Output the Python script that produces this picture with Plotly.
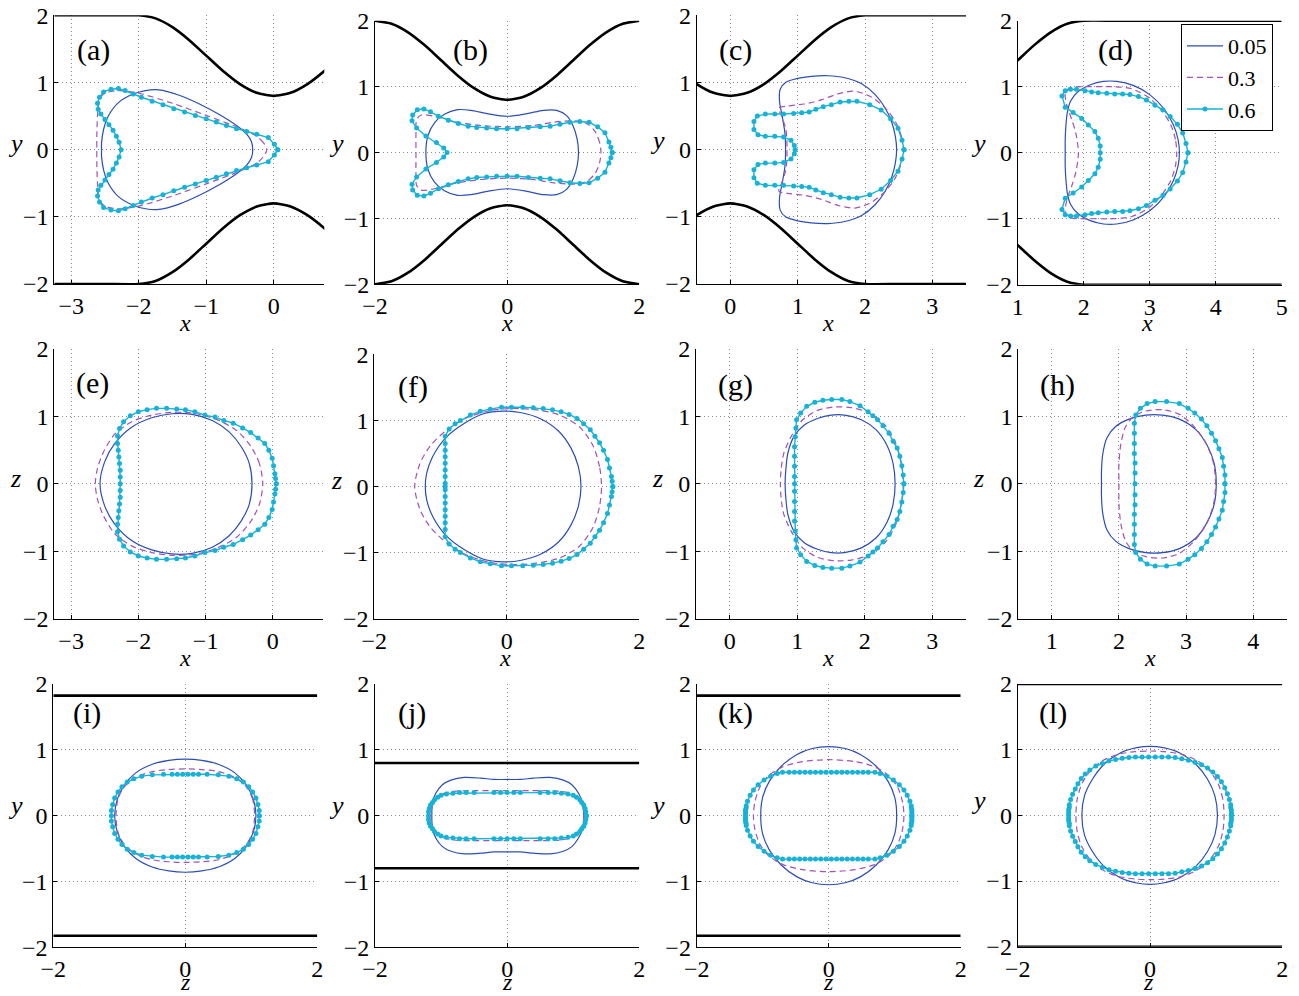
import plotly.graph_objects as go

# ---------------- data ----------------
# channel wall (upper half); lower wall is its mirror
WALL_X = [-3.25, -2.5, -2.0, -1.75, -1.5, -1.25, -1.0, -0.75, -0.5, -0.25, 0.0,
          0.25, 0.5, 0.75, 1.0, 1.25, 1.5, 1.75, 2.0, 2.5, 3.5, 5.0]
WALL_Y = [2.0, 2.0, 2.0, 1.954, 1.824, 1.630, 1.4, 1.170, 0.976, 0.846, 0.8,
          0.846, 0.976, 1.170, 1.4, 1.630, 1.824, 1.954, 2.0, 2.0, 2.0, 2.0]
# flat walls in the cross sections (i)-(l)
SECTION_WALLS = [1.824, 0.8, 1.824, 2.0]

# droplet outlines, upper halves (y >= 0); lower halves are mirror images
A_BLUE = [(-0.31, 0), (-0.33, 0.12), (-0.40, 0.23), (-0.55, 0.36), (-0.8, 0.52), (-1.1, 0.68),
          (-1.4, 0.81), (-1.7, 0.89), (-1.9, 0.88), (-2.1, 0.82), (-2.3, 0.7), (-2.45, 0.5),
          (-2.52, 0.3), (-2.55, 0.1), (-2.55, 0)]
A_PURPLE = [(-0.1, 0), (-0.15, 0.1), (-0.25, 0.2), (-0.5, 0.32), (-1.0, 0.51), (-1.5, 0.69),
            (-2.0, 0.84), (-2.3, 0.88), (-2.5, 0.84), (-2.58, 0.75), (-2.61, 0.5), (-2.62, 0.2),
            (-2.62, 0)]
A_CYAN = [(0.06, 0), (0.01, 0.08), (-0.08, 0.18), (-0.25, 0.23), (-0.4, 0.27), (-0.55, 0.31),
          (-0.7, 0.36), (-0.85, 0.41), (-1.0, 0.46), (-1.16, 0.51), (-1.32, 0.56), (-1.48, 0.61),
          (-1.64, 0.67), (-1.8, 0.72), (-1.96, 0.78), (-2.08, 0.83), (-2.2, 0.88), (-2.3, 0.91),
          (-2.41, 0.9), (-2.52, 0.86), (-2.58, 0.78), (-2.61, 0.69), (-2.6, 0.6), (-2.56, 0.53),
          (-2.5, 0.45), (-2.44, 0.37), (-2.38, 0.29), (-2.33, 0.2), (-2.29, 0.11), (-2.26, 0)]

B_BLUE = [(1.08, 0), (1.06, 0.2), (1.0, 0.4), (0.9, 0.56), (0.75, 0.64), (0.55, 0.64), (0.3, 0.59),
          (0, 0.55), (-0.3, 0.59), (-0.55, 0.64), (-0.75, 0.65), (-0.95, 0.58), (-1.1, 0.45),
          (-1.2, 0.25), (-1.23, 0)]
B_PURPLE = [(1.42, 0), (1.4, 0.15), (1.33, 0.32), (1.2, 0.44), (1.0, 0.48), (0.7, 0.46), (0.4, 0.41),
            (0, 0.39), (-0.4, 0.41), (-0.8, 0.47), (-1.1, 0.55), (-1.3, 0.57), (-1.37, 0.5),
            (-1.38, 0.3), (-1.38, 0)]
B_CYAN = [(1.59, 0), (1.57, 0.08), (1.54, 0.16), (1.48, 0.3), (1.37, 0.39), (1.24, 0.46), (1.1, 0.47),
          (0.95, 0.46), (0.8, 0.43), (0.65, 0.4), (0.5, 0.39), (0.32, 0.38), (0.15, 0.36), (0, 0.36),
          (-0.16, 0.36), (-0.31, 0.37), (-0.46, 0.38), (-0.59, 0.4), (-0.74, 0.44), (-0.89, 0.49),
          (-1.04, 0.55), (-1.16, 0.62), (-1.26, 0.66), (-1.36, 0.65), (-1.43, 0.57), (-1.44, 0.48),
          (-1.37, 0.37), (-1.23, 0.25), (-1.07, 0.15), (-0.96, 0.07), (-0.91, 0)]

C_BLUE = [(2.47, 0), (2.45, 0.2), (2.4, 0.4), (2.3, 0.62), (2.15, 0.82), (1.95, 0.98), (1.7, 1.07),
          (1.45, 1.1), (1.2, 1.09), (1.0, 1.06), (0.82, 1.0), (0.74, 0.9), (0.73, 0.72),
          (0.77, 0.5), (0.81, 0.25), (0.82, 0)]
C_PURPLE = [(2.57, 0), (2.54, 0.2), (2.45, 0.42), (2.3, 0.62), (2.1, 0.78), (1.85, 0.87), (1.6, 0.83),
            (1.35, 0.74), (1.1, 0.68), (0.85, 0.65), (0.72, 0.62), (0.76, 0.5), (0.82, 0.32),
            (0.84, 0.15), (0.84, 0)]
C_CYAN = [(2.58, 0), (2.55, 0.14), (2.49, 0.32), (2.38, 0.46), (2.24, 0.59), (2.07, 0.67), (1.88, 0.72),
          (1.76, 0.72), (1.63, 0.71), (1.5, 0.67), (1.38, 0.64), (1.27, 0.6), (1.17, 0.56), (1.06, 0.55),
          (0.94, 0.54), (0.79, 0.53), (0.66, 0.53), (0.52, 0.53), (0.4, 0.5), (0.35, 0.42), (0.35, 0.3),
          (0.41, 0.22), (0.52, 0.2), (0.66, 0.2), (0.79, 0.19), (0.9, 0.14), (0.95, 0.06), (0.96, 0)]

D_BLUE = [(3.45, 0), (3.43, 0.2), (3.36, 0.42), (3.22, 0.66), (3.0, 0.88), (2.75, 1.02), (2.5, 1.08),
          (2.3, 1.08), (2.1, 1.03), (1.92, 0.93), (1.8, 0.78), (1.75, 0.6), (1.73, 0.4), (1.72, 0.2),
          (1.72, 0)]
D_PURPLE = [(3.41, 0), (3.39, 0.2), (3.32, 0.42), (3.18, 0.64), (2.98, 0.84), (2.72, 0.97), (2.45, 1.0),
            (2.2, 1.0), (1.95, 1.0), (1.78, 0.98), (1.72, 0.9), (1.75, 0.7), (1.82, 0.5), (1.88, 0.3),
            (1.91, 0.12), (1.92, 0)]
D_CYAN = [(3.58, 0), (3.55, 0.14), (3.5, 0.3), (3.42, 0.43), (3.31, 0.55), (3.2, 0.65), (3.08, 0.72),
          (2.95, 0.8), (2.83, 0.85), (2.7, 0.88), (2.59, 0.89), (2.47, 0.89), (2.35, 0.9), (2.22, 0.91),
          (2.12, 0.92), (2.02, 0.94), (1.89, 0.96), (1.8, 0.96), (1.72, 0.94), (1.67, 0.86), (1.72, 0.69),
          (1.84, 0.61), (1.97, 0.52), (2.07, 0.42), (2.17, 0.32), (2.22, 0.22), (2.25, 0.1), (2.25, 0)]

E_BLUE = [(-0.31, 0), (-0.35, 0.3), (-0.47, 0.55), (-0.65, 0.77), (-0.9, 0.94), (-1.2, 1.03),
          (-1.5, 1.04), (-1.8, 0.98), (-2.1, 0.84), (-2.35, 0.6), (-2.5, 0.33), (-2.57, 0)]
E_PURPLE = [(-0.15, 0), (-0.2, 0.3), (-0.33, 0.56), (-0.55, 0.8), (-0.85, 0.96), (-1.2, 1.05),
            (-1.5, 1.06), (-1.8, 1.02), (-2.1, 0.92), (-2.35, 0.74), (-2.52, 0.47), (-2.61, 0.22),
            (-2.64, 0)]
E_CYAN = [(0.05, 0), (0.04, 0.08), (0.03, 0.15), (0.01, 0.27), (-0.01, 0.38), (-0.06, 0.5), (-0.12, 0.6),
          (-0.22, 0.68), (-0.33, 0.76), (-0.45, 0.83), (-0.59, 0.9), (-0.73, 0.94), (-0.86, 0.99),
          (-1.01, 1.02), (-1.16, 1.07), (-1.3, 1.1), (-1.43, 1.11), (-1.58, 1.12), (-1.73, 1.12),
          (-1.87, 1.1), (-2.0, 1.07), (-2.12, 1.01), (-2.22, 0.92), (-2.28, 0.82), (-2.31, 0.71),
          (-2.31, 0.6), (-2.3, 0.5), (-2.29, 0.4), (-2.28, 0.3), (-2.27, 0.2), (-2.27, 0.1), (-2.27, 0)]

F_BLUE = [(1.12, 0), (1.08, 0.3), (0.97, 0.58), (0.78, 0.84), (0.5, 1.03), (0.2, 1.12), (-0.05, 1.14),
          (-0.35, 1.1), (-0.65, 0.95), (-0.92, 0.74), (-1.12, 0.45), (-1.21, 0.2), (-1.23, 0)]
F_PURPLE = [(1.43, 0), (1.4, 0.3), (1.3, 0.62), (1.1, 0.9), (0.8, 1.08), (0.45, 1.16), (0.1, 1.18),
            (-0.25, 1.15), (-0.6, 1.04), (-0.9, 0.86), (-1.15, 0.62), (-1.31, 0.35), (-1.39, 0)]
F_CYAN = [(1.6, 0), (1.59, 0.08), (1.58, 0.15), (1.55, 0.28), (1.52, 0.41), (1.46, 0.55), (1.4, 0.66),
          (1.33, 0.76), (1.26, 0.86), (1.16, 0.95), (1.06, 1.03), (0.94, 1.09), (0.82, 1.13), (0.69, 1.16),
          (0.55, 1.18), (0.4, 1.19), (0.24, 1.2), (0.07, 1.2), (-0.08, 1.2), (-0.25, 1.17), (-0.4, 1.14),
          (-0.55, 1.08), (-0.7, 1.0), (-0.78, 0.95), (-0.87, 0.87), (-0.93, 0.76), (-0.93, 0.65),
          (-0.93, 0.55), (-0.93, 0.45), (-0.93, 0.35), (-0.93, 0.25), (-0.93, 0.15), (-0.93, 0.05),
          (-0.93, 0)]

G_BLUE = [(2.45, 0), (2.42, 0.3), (2.33, 0.57), (2.17, 0.8), (1.95, 0.95), (1.7, 1.02), (1.5, 1.02),
          (1.3, 0.97), (1.1, 0.87), (0.95, 0.7), (0.86, 0.45), (0.83, 0.2), (0.82, 0)]
G_PURPLE = [(2.57, 0), (2.54, 0.3), (2.46, 0.6), (2.3, 0.87), (2.05, 1.06), (1.8, 1.13), (1.55, 1.14),
            (1.3, 1.09), (1.08, 0.95), (0.92, 0.72), (0.8, 0.45), (0.76, 0.2), (0.75, 0)]
G_CYAN = [(2.58, 0), (2.57, 0.13), (2.55, 0.27), (2.52, 0.41), (2.48, 0.53), (2.42, 0.63), (2.36, 0.75),
          (2.27, 0.86), (2.19, 0.95), (2.12, 1.01), (2.05, 1.07), (1.93, 1.16), (1.78, 1.22), (1.66, 1.25),
          (1.51, 1.25), (1.38, 1.24), (1.26, 1.21), (1.14, 1.15), (1.05, 1.05), (0.99, 0.95), (0.98, 0.83),
          (0.97, 0.7), (0.96, 0.55), (0.96, 0.41), (0.96, 0.26), (0.96, 0.11), (0.96, 0)]

H_BLUE = [(3.45, 0), (3.42, 0.3), (3.32, 0.56), (3.15, 0.8), (2.9, 0.96), (2.65, 1.02), (2.4, 1.02),
          (2.15, 0.96), (1.95, 0.85), (1.82, 0.68), (1.76, 0.45), (1.74, 0.2), (1.74, 0)]
H_PURPLE = [(3.44, 0), (3.41, 0.3), (3.3, 0.6), (3.12, 0.85), (2.9, 1.03), (2.65, 1.1), (2.4, 1.08),
            (2.22, 1.0), (2.1, 0.85), (2.03, 0.6), (2.0, 0.3), (2.0, 0)]
H_CYAN = [(3.58, 0), (3.58, 0.13), (3.56, 0.26), (3.54, 0.39), (3.49, 0.52), (3.44, 0.64), (3.38, 0.75),
          (3.31, 0.86), (3.23, 0.96), (3.13, 1.05), (3.03, 1.12), (2.9, 1.19), (2.71, 1.22), (2.54, 1.22),
          (2.42, 1.19), (2.32, 1.12), (2.25, 1.02), (2.23, 0.9), (2.23, 0.75), (2.23, 0.6), (2.23, 0.45),
          (2.24, 0.31), (2.24, 0.16), (2.24, 0)]

I_BLUE = [(1.07, 0), (1.03, 0.25), (0.92, 0.47), (0.75, 0.65), (0.5, 0.78), (0.25, 0.84), (0, 0.86),
          (-0.25, 0.84), (-0.5, 0.78), (-0.75, 0.65), (-0.92, 0.47), (-1.03, 0.25), (-1.07, 0)]
I_PURPLE = [(1.05, 0), (1.02, 0.25), (0.93, 0.43), (0.75, 0.58), (0.5, 0.67), (0.25, 0.7), (0, 0.71),
            (-0.25, 0.7), (-0.5, 0.67), (-0.75, 0.58), (-0.93, 0.43), (-1.02, 0.25), (-1.05, 0)]
I_CYAN = [(1.12, 0), (1.12, 0.08), (1.1, 0.17), (1.07, 0.27), (1.02, 0.36), (0.96, 0.44), (0.88, 0.51),
          (0.78, 0.56), (0.66, 0.6), (0.5, 0.62), (0.33, 0.63), (0.2, 0.63), (0.12, 0.63), (0.04, 0.63),
          (-0.04, 0.63), (-0.12, 0.63), (-0.2, 0.63), (-0.33, 0.63), (-0.5, 0.62), (-0.66, 0.6),
          (-0.78, 0.56), (-0.88, 0.51), (-0.96, 0.44), (-1.02, 0.36), (-1.07, 0.27), (-1.1, 0.17),
          (-1.12, 0.08), (-1.12, 0)]

J_BLUE = [(1.16, 0), (1.14, 0.2), (1.08, 0.34), (0.98, 0.47), (0.85, 0.54), (0.65, 0.58), (0.4, 0.57),
          (0.2, 0.55), (0, 0.55), (-0.2, 0.55), (-0.4, 0.57), (-0.65, 0.58), (-0.85, 0.54), (-0.98, 0.47),
          (-1.08, 0.34), (-1.13, 0.2), (-1.14, 0)]
J_PURPLE = [(1.16, 0), (1.14, 0.15), (1.08, 0.26), (0.98, 0.33), (0.8, 0.37), (0.5, 0.38), (0, 0.38),
            (-0.5, 0.38), (-0.8, 0.37), (-0.98, 0.33), (-1.08, 0.26), (-1.13, 0.15), (-1.15, 0)]
J_CYAN = [(1.2, 0), (1.19, 0.06), (1.18, 0.11), (1.16, 0.16), (1.13, 0.2), (1.1, 0.24),
          (1.05, 0.28), (1.0, 0.31), (0.92, 0.33), (0.82, 0.34), (0.72, 0.35), (0.62, 0.35), (0.5, 0.35),
          (0.2, 0.35), (0.1, 0.35), (0, 0.35), (-0.1, 0.35), (-0.2, 0.35), (-0.5, 0.35), (-0.62, 0.35),
          (-0.72, 0.35), (-0.82, 0.34), (-0.92, 0.33), (-1.0, 0.31), (-1.05, 0.28), (-1.1, 0.24),
          (-1.13, 0.2), (-1.16, 0.16), (-1.18, 0.11), (-1.19, 0.06), (-1.19, 0)]

K_BLUE = [(1.03, 0), (1.0, 0.28), (0.9, 0.52), (0.72, 0.75), (0.48, 0.93), (0.25, 1.02), (0, 1.05),
          (-0.25, 1.02), (-0.48, 0.93), (-0.72, 0.75), (-0.9, 0.52), (-1.0, 0.28), (-1.03, 0)]
K_PURPLE = [(1.14, 0), (1.12, 0.2), (1.05, 0.42), (0.92, 0.6), (0.7, 0.74), (0.4, 0.82), (0, 0.85),
            (-0.4, 0.82), (-0.7, 0.74), (-0.92, 0.6), (-1.05, 0.42), (-1.12, 0.2), (-1.14, 0)]
K_CYAN = [(1.26, 0), (1.26, 0.03), (1.26, 0.06), (1.26, 0.09), (1.25, 0.12), (1.25, 0.15),
          (1.23, 0.22), (1.19, 0.31), (1.14, 0.39), (1.07, 0.47), (0.98, 0.54), (0.88, 0.6),
          (0.78, 0.64), (0.7, 0.66), (0.6, 0.66), (0.52, 0.66), (0.44, 0.66), (0.36, 0.66),
          (0.28, 0.66), (0.2, 0.66), (0.12, 0.66), (0.04, 0.66), (-0.04, 0.66), (-0.12, 0.66),
          (-0.2, 0.66), (-0.28, 0.66), (-0.36, 0.66), (-0.44, 0.66), (-0.52, 0.66), (-0.6, 0.66),
          (-0.7, 0.66), (-0.78, 0.64), (-0.88, 0.6), (-0.98, 0.54), (-1.07, 0.47), (-1.14, 0.39),
          (-1.19, 0.31), (-1.23, 0.22), (-1.25, 0.15), (-1.25, 0.12), (-1.26, 0.09), (-1.26, 0.06),
          (-1.26, 0.03), (-1.26, 0)]

L_BLUE = [(1.02, 0), (0.98, 0.3), (0.87, 0.55), (0.7, 0.77), (0.45, 0.95), (0.2, 1.03), (0, 1.05),
          (-0.2, 1.03), (-0.45, 0.95), (-0.7, 0.77), (-0.87, 0.55), (-0.99, 0.3), (-1.03, 0)]
L_PURPLE = [(1.12, 0), (1.1, 0.25), (1.03, 0.48), (0.9, 0.68), (0.72, 0.83), (0.48, 0.93), (0.22, 0.97),
            (0, 0.98), (-0.22, 0.97), (-0.48, 0.93), (-0.72, 0.83), (-0.9, 0.68), (-1.03, 0.48),
            (-1.1, 0.25), (-1.12, 0)]
L_CYAN = [(1.23, 0), (1.23, 0.04), (1.23, 0.08), (1.22, 0.12), (1.22, 0.16), (1.2, 0.24),
          (1.17, 0.33), (1.13, 0.42), (1.08, 0.51), (1.02, 0.59), (0.95, 0.66), (0.87, 0.72),
          (0.78, 0.77), (0.68, 0.81), (0.58, 0.84), (0.48, 0.86), (0.38, 0.88), (0.28, 0.89),
          (0.18, 0.89), (0.08, 0.89), (-0.02, 0.89), (-0.12, 0.89), (-0.22, 0.89), (-0.32, 0.88),
          (-0.42, 0.87), (-0.52, 0.85), (-0.62, 0.83), (-0.72, 0.79), (-0.82, 0.75), (-0.91, 0.69),
          (-0.98, 0.63), (-1.04, 0.56), (-1.09, 0.48), (-1.13, 0.4), (-1.17, 0.32), (-1.2, 0.24),
          (-1.22, 0.16), (-1.22, 0.12), (-1.23, 0.08), (-1.23, 0.04), (-1.23, 0)]

SERIES_NAMES = ["0.05", "0.3", "0.6"]
PANEL_LABELS = ["(a)", "(b)", "(c)", "(d)", "(e)", "(f)", "(g)", "(h)", "(i)", "(j)", "(k)", "(l)"]
X_TICKS = [[-3, -2, -1, 0], [-2, 0, 2], [0, 1, 2, 3], [1, 2, 3, 4, 5],
           [-3, -2, -1, 0], [-2, 0, 2], [0, 1, 2, 3], [1, 2, 3, 4],
           [-2, 0, 2], [-2, 0, 2], [-2, 0, 2], [-2, 0, 2]]
Y_TICKS = [-2, -1, 0, 1, 2]
X_NAMES = ["x"] * 8 + ["z"] * 4
Y_NAMES = ["y"] * 4 + ["z"] * 4 + ["y"] * 4

# ---------------- layout / style ----------------
W, H = 1299, 996
BLUE = "#2b4eb4"
PURPLE = "#a452b4"
CYAN = "#16b2d8"
FONT = "Liberation Serif, Times New Roman, serif"

CURVES = [(A_BLUE, A_PURPLE, A_CYAN), (B_BLUE, B_PURPLE, B_CYAN), (C_BLUE, C_PURPLE, C_CYAN),
          (D_BLUE, D_PURPLE, D_CYAN), (E_BLUE, E_PURPLE, E_CYAN), (F_BLUE, F_PURPLE, F_CYAN),
          (G_BLUE, G_PURPLE, G_CYAN), (H_BLUE, H_PURPLE, H_CYAN), (I_BLUE, I_PURPLE, I_CYAN),
          (J_BLUE, J_PURPLE, J_CYAN), (K_BLUE, K_PURPLE, K_CYAN), (L_BLUE, L_PURPLE, L_CYAN)]

X_RANGES = [[-3.25, 0.75], [-2, 2], [-0.5, 3.5], [1, 5],
            [-3.25, 0.75], [-2, 2], [-0.5, 3.5], [0.5, 4.5],
            [-2, 2], [-2, 2], [-2, 2], [-2, 2]]
# plot-area pixel boxes: left, right, top, bottom
BOXES = [(54.3, 324.3, 15.3, 284.0), (375.0, 639.3, 20.7, 284.3), (696.7, 966.0, 15.3, 284.0),
         (1017.7, 1281.7, 20.7, 284.7),
         (54.3, 323.3, 349.0, 618.7), (374.3, 639.3, 354.3, 618.7), (696.0, 966.0, 349.0, 618.7),
         (1018.3, 1286.7, 349.0, 618.7),
         (53.3, 317.3, 684.0, 947.3), (375.0, 639.3, 684.0, 947.3), (696.7, 960.7, 684.0, 947.3),
         (1017.7, 1282.3, 684.0, 946.7)]
LABEL_POS = [(93, 50), (470, 50), (735, 50), (1115, 50),
             (92, 383), (413, 387), (735, 385), (1057, 385),
             (87, 713), (412, 713), (735, 713), (1053, 713)]
XNAME_POS = [(185, 323), (507, 323), (828, 323), (1147, 323),
             (185, 658), (505, 658), (828, 658), (1150, 658),
             (185, 982), (507, 982), (828, 982), (1148, 982)]
YNAME_POS = [(15, 143), (336, 143), (657, 141), (978, 143),
             (15, 478), (336, 480), (657, 478), (978, 478),
             (15, 805), (336, 805), (657, 805), (978, 800)]


def closed(upper):
    xs = [p[0] for p in upper] + [p[0] for p in reversed(upper[:-1])]
    ys = [p[1] for p in upper] + [-p[1] for p in reversed(upper[:-1])]
    return xs, ys


fig = go.Figure()
layout = dict(template="none", width=W, height=H, margin=dict(l=0, r=0, t=0, b=0, pad=0),
              paper_bgcolor="white", plot_bgcolor="white",
              font=dict(family=FONT, size=22, color="black"),
              annotations=[])

for k in range(12):
    ax = "" if k == 0 else str(k + 1)
    xa, ya = "x" + ax, "y" + ax
    left, right, top, bottom = BOXES[k]
    axis_common = dict(showline=True, linecolor="black", linewidth=1, mirror=False,
                       ticks="inside", ticklen=4, tickcolor="black", automargin=False,
                       showgrid=True, gridcolor="#8c8c8c", gridwidth=1, griddash="1px,3px",
                       zeroline=False, tickfont=dict(family=FONT, size=24, color="black"),
                       fixedrange=True)
    layout["xaxis" + ax] = dict(axis_common, domain=[left / W, right / W], range=X_RANGES[k],
                                tickvals=X_TICKS[k], anchor=ya)
    layout["yaxis" + ax] = dict(axis_common, domain=[1 - bottom / H, 1 - top / H], range=[-2, 2],
                                tickvals=Y_TICKS, anchor=xa)

    # walls
    if k < 4:
        lo, hi = X_RANGES[k]
        wx = [x for x in WALL_X if lo - 0.3 <= x <= hi + 0.3]
        wy = [y for x, y in zip(WALL_X, WALL_Y) if lo - 0.3 <= x <= hi + 0.3]
        for sgn in (1, -1):
            fig.add_trace(go.Scatter(x=wx, y=[sgn * v for v in wy], mode="lines",
                                     line=dict(color="black", width=2.6, shape="spline", smoothing=0.6),
                                     showlegend=False, hoverinfo="skip", xaxis=xa, yaxis=ya))
    elif k >= 8:
        wv = SECTION_WALLS[k - 8]
        for sgn in (1, -1):
            fig.add_trace(go.Scatter(x=X_RANGES[k], y=[sgn * wv, sgn * wv], mode="lines",
                                     line=dict(color="black", width=2.6),
                                     showlegend=False, hoverinfo="skip", xaxis=xa, yaxis=ya))

    blue, purple, cyan = CURVES[k]
    bx, by = closed(blue)
    px_, py_ = closed(purple)
    cx, cy = closed(cyan)
    show = (k == 0)
    fig.add_trace(go.Scatter(x=bx, y=by, mode="lines", name=SERIES_NAMES[0], showlegend=show,
                             line=dict(color=BLUE, width=1.2, shape="spline", smoothing=0.8),
                             xaxis=xa, yaxis=ya))
    fig.add_trace(go.Scatter(x=px_, y=py_, mode="lines", name=SERIES_NAMES[1], showlegend=show,
                             line=dict(color=PURPLE, width=1.2, dash="6px,4px", shape="spline",
                                       smoothing=0.8),
                             xaxis=xa, yaxis=ya))
    fig.add_trace(go.Scatter(x=cx, y=cy, mode="lines+markers", name=SERIES_NAMES[2], showlegend=show,
                             line=dict(color=CYAN, width=1.4),
                             marker=dict(color=CYAN, size=5),
                             xaxis=xa, yaxis=ya))

    lx, ly = LABEL_POS[k]
    layout["annotations"].append(dict(text=PANEL_LABELS[k], x=lx / W, y=1 - ly / H, xref="paper",
                                      yref="paper", showarrow=False, xanchor="center",
                                      yanchor="middle", font=dict(family=FONT, size=30)))
    nx, ny = XNAME_POS[k]
    layout["annotations"].append(dict(text="<i>%s</i>" % X_NAMES[k], x=nx / W, y=1 - ny / H,
                                      xref="paper", yref="paper", showarrow=False,
                                      xanchor="center", yanchor="middle",
                                      font=dict(family=FONT, size=24)))
    mx, my = YNAME_POS[k]
    layout["annotations"].append(dict(text="<i>%s</i>" % Y_NAMES[k], x=mx / W, y=1 - my / H,
                                      xref="paper", yref="paper", showarrow=False,
                                      xanchor="center", yanchor="middle",
                                      font=dict(family=FONT, size=26)))

layout["legend"] = dict(x=1181 / W, y=1 - 24 / H, xanchor="left", yanchor="top",
                        bgcolor="white", bordercolor="black", borderwidth=1,
                        font=dict(family=FONT, size=22), itemwidth=36,
                        tracegroupgap=0)
fig.update_layout(**layout)
fig.write_html("out.html")
